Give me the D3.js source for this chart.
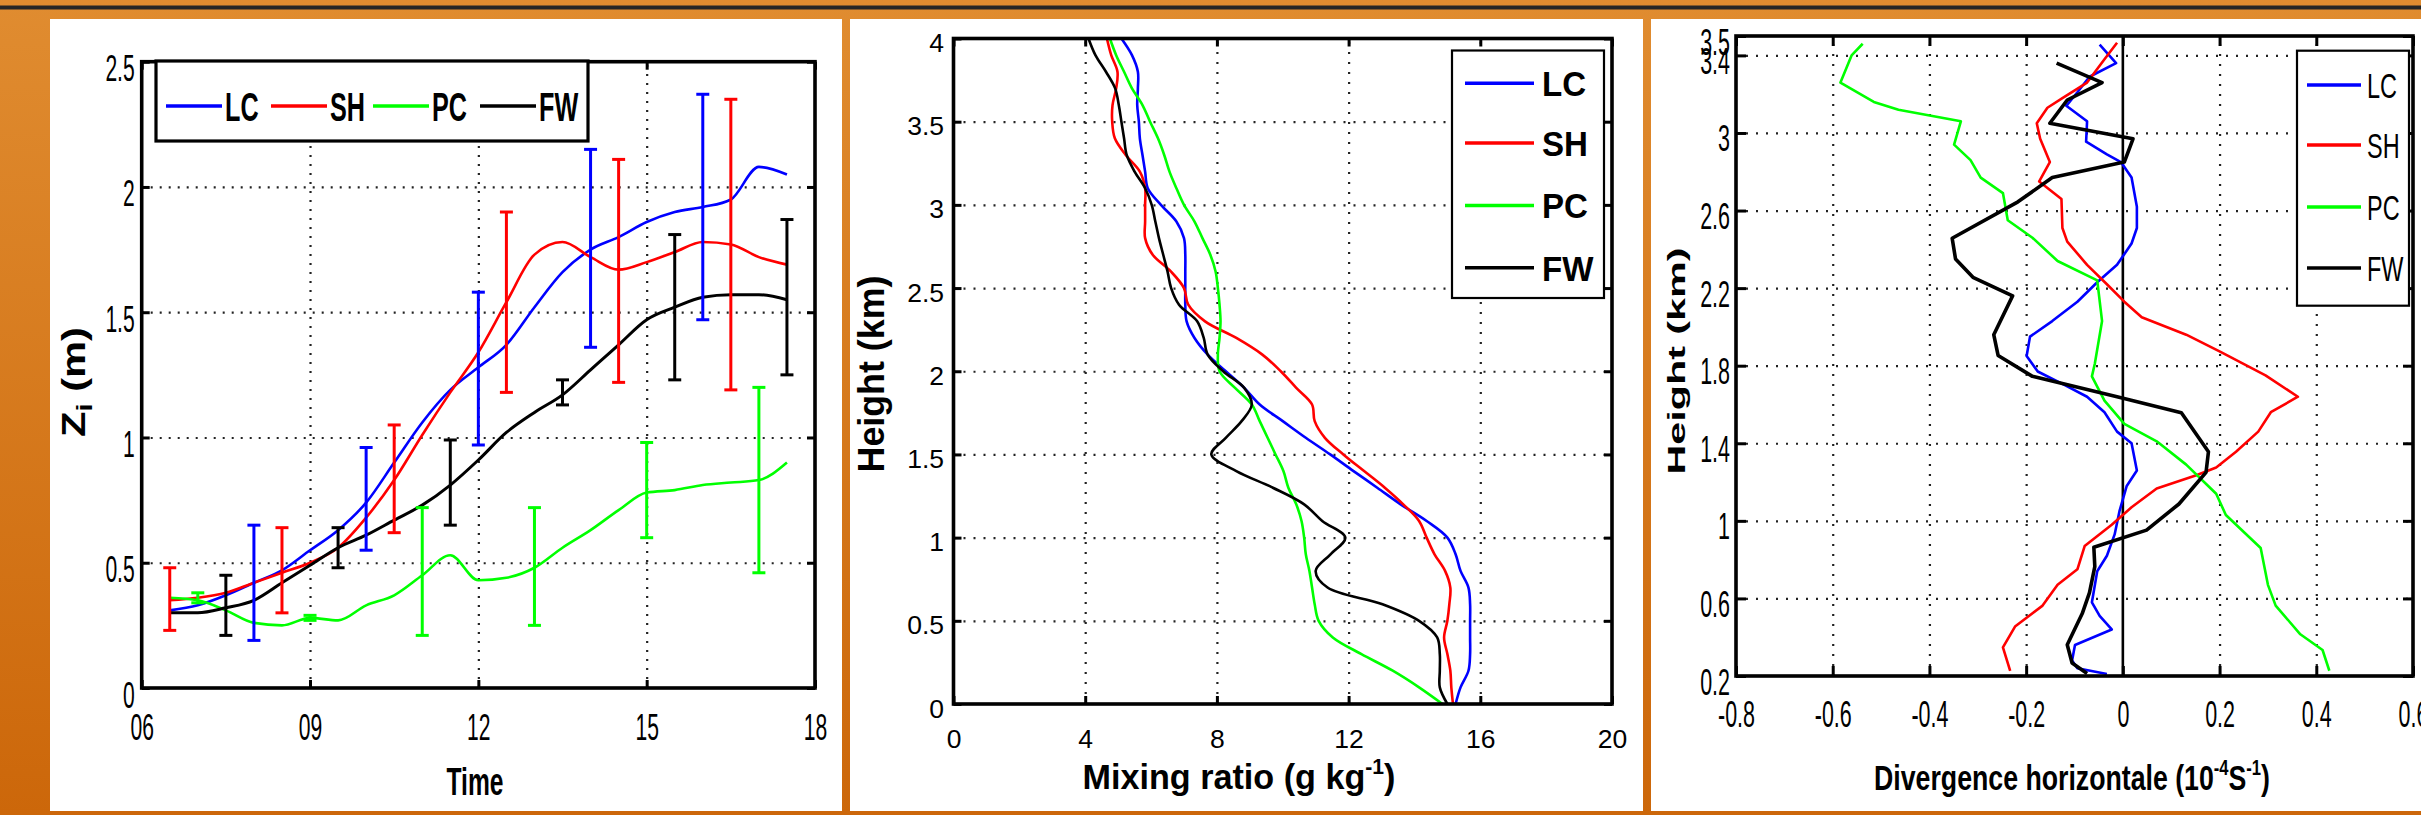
<!DOCTYPE html>
<html>
<head>
<meta charset="utf-8">
<script src="https://cdnjs.cloudflare.com/ajax/libs/d3/7.8.5/d3.min.js"></script>
<style>
  html, body { margin: 0; padding: 0; background: #d87b1f; }
  svg { display: block; }
  text { font-family: "Liberation Sans", Arial, Helvetica, sans-serif; }
</style>
</head>
<body>
<svg id="fig" width="2421" height="815"></svg>
<script>
// ------------------------------------------------------------------
// Shared series definitions
// ------------------------------------------------------------------
const seriesNames  = ["LC", "SH", "PC", "FW"];
const seriesColors = ["#0000ff", "#ff0000", "#00ff00", "#000000"];

// ------------------------------------------------------------------
// Panel 1: boundary-layer height Zi against local time
// ------------------------------------------------------------------
const hours = [6.5, 7, 7.5, 8, 8.5, 9, 9.5, 10, 10.5, 11, 11.5, 12,
               12.5, 13, 13.5, 14, 14.5, 15, 15.5, 16, 16.5, 17, 17.5];
const ziLC = [0.31, 0.33, 0.37, 0.42, 0.47, 0.55, 0.63, 0.74, 0.90, 1.06, 1.19, 1.28,
              1.37, 1.52, 1.66, 1.75, 1.80, 1.86, 1.90, 1.92, 1.95, 2.08, 2.05];
const ziSH = [0.35, 0.36, 0.38, 0.42, 0.46, 0.50, 0.56, 0.68, 0.83, 1.01, 1.18, 1.34,
              1.54, 1.73, 1.78, 1.72, 1.67, 1.70, 1.74, 1.78, 1.77, 1.72, 1.69];
const ziPC = [0.36, 0.35, 0.31, 0.26, 0.25, 0.28, 0.27, 0.33, 0.37, 0.45, 0.53, 0.43,
              0.44, 0.48, 0.56, 0.63, 0.71, 0.78, 0.79, 0.81, 0.82, 0.83, 0.90];
const ziFW = [0.30, 0.30, 0.32, 0.35, 0.42, 0.49, 0.56, 0.61, 0.67, 0.73, 0.81, 0.91,
              1.02, 1.10, 1.17, 1.27, 1.37, 1.47, 1.52, 1.56, 1.57, 1.57, 1.55];
// error bars: [time, lower, upper]
const errLC = [[8, 0.19, 0.65], [10, 0.55, 0.96], [12, 0.97, 1.58], [14, 1.36, 2.15], [16, 1.47, 2.37]];
const errSH = [[6.5, 0.23, 0.48], [8.5, 0.30, 0.64], [10.5, 0.62, 1.05], [12.5, 1.18, 1.90],
               [14.5, 1.22, 2.11], [16.5, 1.19, 2.35]];
const errPC = [[7, 0.34, 0.38], [9, 0.27, 0.29], [11, 0.21, 0.72], [13, 0.25, 0.72],
               [15, 0.60, 0.98], [17, 0.46, 1.20]];
const errFW = [[7.5, 0.21, 0.45], [9.5, 0.48, 0.64], [11.5, 0.65, 0.99], [13.5, 1.13, 1.23],
               [15.5, 1.23, 1.81], [17.5, 1.25, 1.87]];
const p1XTicks = [6, 9, 12, 15, 18];
const p1YTicks = [0, 0.5, 1, 1.5, 2, 2.5];

// ------------------------------------------------------------------
// Panel 2: mixing-ratio profiles (g/kg), heights listed from the top down
// ------------------------------------------------------------------
const heightsMR = [4.0, 3.9, 3.8, 3.7, 3.6, 3.5, 3.4, 3.3, 3.2, 3.1,
                   3.0, 2.9, 2.8, 2.7, 2.6, 2.5, 2.4, 2.3, 2.2, 2.1,
                   2.0, 1.9, 1.8, 1.7, 1.6, 1.5, 1.4, 1.3, 1.2, 1.1,
                   1.0, 0.9, 0.8, 0.7, 0.6, 0.5, 0.4, 0.3, 0.2, 0.1, 0.0];
const mrLC = [5.10, 5.42, 5.60, 5.60, 5.58, 5.63, 5.66, 5.74, 5.82, 5.90,
              6.30, 6.77, 7.00, 7.04, 7.04, 7.04, 7.04, 7.08, 7.32, 7.72,
              8.27, 8.83, 9.30, 10.00, 10.70, 11.44, 12.15, 12.87, 13.58, 14.37,
              15.00, 15.25, 15.40, 15.64, 15.69, 15.69, 15.69, 15.69, 15.64, 15.40, 15.25];
const mrSH = [4.66, 4.79, 4.98, 4.94, 4.83, 4.82, 4.90, 5.23, 5.66, 5.82,
              5.82, 5.82, 5.82, 6.05, 6.60, 7.00, 7.13, 7.64, 8.59, 9.38,
              9.94, 10.41, 10.89, 10.97, 11.28, 11.84, 12.47, 13.10, 13.66, 14.14,
              14.37, 14.61, 14.93, 15.09, 15.06, 15.00, 14.90, 15.00, 15.09, 15.12, 15.17];
const mrPC = [4.75, 4.94, 5.18, 5.42, 5.74, 5.97, 6.21, 6.40, 6.56, 6.77,
              7.00, 7.32, 7.56, 7.80, 7.96, 8.03, 8.08, 8.11, 8.08, 8.03,
              8.08, 8.55, 9.06, 9.30, 9.54, 9.78, 10.02, 10.17, 10.41, 10.57,
              10.65, 10.70, 10.81, 10.89, 10.97, 11.09, 11.52, 12.39, 13.34, 14.14, 14.85];
const mrFW = [4.10, 4.31, 4.63, 4.91, 5.02, 5.10, 5.18, 5.26, 5.50, 5.82,
              6.02, 6.13, 6.24, 6.37, 6.50, 6.61, 6.85, 7.40, 7.60, 7.72,
              8.19, 8.83, 9.06, 8.75, 8.27, 7.83, 8.59, 9.70, 10.65, 11.20,
              11.90, 11.45, 11.00, 11.36, 13.03, 14.14, 14.69, 14.77, 14.77, 14.77, 15.00];
const p2XTicks = [0, 4, 8, 12, 16, 20];
const p2YTicks = [0, 0.5, 1, 1.5, 2, 2.5, 3, 3.5, 4];

// ------------------------------------------------------------------
// Panel 3: horizontal divergence profiles, [divergence, height] pairs
// ------------------------------------------------------------------
const divLC = [[-0.048, 3.455], [-0.014, 3.36], [-0.069, 3.29], [-0.094, 3.21], [-0.117, 3.14],
  [-0.074, 3.06], [-0.076, 2.955], [-0.033, 2.89], [-0.004, 2.85], [0.018, 2.77], [0.029, 2.62],
  [0.029, 2.51], [0.018, 2.43], [-0.012, 2.32], [-0.053, 2.23], [-0.094, 2.13], [-0.146, 2.03],
  [-0.192, 1.95], [-0.199, 1.85], [-0.176, 1.77], [-0.12, 1.70], [-0.074, 1.64], [-0.038, 1.56],
  [-0.012, 1.46], [0.018, 1.40], [0.029, 1.26], [0.008, 1.18], [-0.007, 1.05], [-0.017, 0.93],
  [-0.033, 0.82], [-0.053, 0.74], [-0.064, 0.58], [-0.048, 0.51], [-0.023, 0.44], [-0.099, 0.36],
  [-0.105, 0.28], [-0.094, 0.24], [-0.033, 0.21]];
const divSH = [[-0.012, 3.465], [-0.038, 3.38], [-0.074, 3.26], [-0.125, 3.18], [-0.156, 3.13],
  [-0.178, 3.05], [-0.171, 2.97], [-0.151, 2.85], [-0.173, 2.75], [-0.127, 2.66], [-0.125, 2.51],
  [-0.115, 2.44], [-0.074, 2.32], [-0.033, 2.22], [0.003, 2.13], [0.039, 2.05], [0.131, 1.96],
  [0.203, 1.87], [0.295, 1.75], [0.362, 1.64], [0.306, 1.56], [0.28, 1.46], [0.234, 1.356],
  [0.193, 1.275], [0.152, 1.235], [0.07, 1.167], [0.018, 1.07], [-0.023, 0.98], [-0.079, 0.87],
  [-0.094, 0.75], [-0.135, 0.67], [-0.166, 0.563], [-0.223, 0.455], [-0.248, 0.348], [-0.233, 0.227]];
const divPC = [[-0.538, 3.46], [-0.561, 3.40], [-0.584, 3.26], [-0.515, 3.16], [-0.464, 3.12],
  [-0.335, 3.06], [-0.349, 2.94], [-0.315, 2.86], [-0.294, 2.77], [-0.248, 2.69], [-0.238, 2.55],
  [-0.187, 2.46], [-0.135, 2.34], [-0.053, 2.24], [-0.043, 2.03], [-0.058, 1.81], [-0.064, 1.745],
  [-0.038, 1.62], [0.003, 1.50], [0.07, 1.41], [0.131, 1.29], [0.193, 1.14], [0.213, 1.03],
  [0.285, 0.86], [0.30, 0.67], [0.316, 0.563], [0.367, 0.415], [0.413, 0.334], [0.427, 0.227]];
const divFW = [[-0.137, 3.36], [-0.043, 3.26], [-0.115, 3.17], [-0.151, 3.05], [0.021, 2.97],
  [0.003, 2.85], [-0.146, 2.77], [-0.217, 2.645], [-0.353, 2.457], [-0.346, 2.35], [-0.31, 2.256],
  [-0.228, 2.16], [-0.267, 1.96], [-0.258, 1.853], [-0.187, 1.745], [-0.012, 1.64], [0.121, 1.557],
  [0.177, 1.356], [0.172, 1.25], [0.116, 1.087], [0.049, 0.952], [-0.06, 0.864], [-0.058, 0.764],
  [-0.069, 0.63], [-0.084, 0.522], [-0.115, 0.361], [-0.105, 0.267], [-0.074, 0.213]];
const p3XTicks = [-0.8, -0.6, -0.4, -0.2, 0, 0.2, 0.4, 0.6];
const p3YTicks = [0.2, 0.6, 1, 1.4, 1.8, 2.2, 2.6, 3, 3.4, 3.5];

// ------------------------------------------------------------------
// Page background and white sheets
// ------------------------------------------------------------------
const W = 2421, H = 815;
const svg = d3.select("#fig");
const defs = svg.append("defs");
const grad = defs.append("linearGradient").attr("id", "bg")
  .attr("x1", 0).attr("y1", 0).attr("x2", 0).attr("y2", 1);
grad.append("stop").attr("offset", "0%").attr("stop-color", "#e08c30");
grad.append("stop").attr("offset", "100%").attr("stop-color", "#cc670a");
svg.append("rect").attr("width", W).attr("height", H).attr("fill", "url(#bg)");
svg.append("rect").attr("x", 0).attr("y", 5.5).attr("width", W).attr("height", 4).attr("fill", "#262626");

[[50, 19, 792, 792], [850, 19, 793, 792], [1651, 19, 770, 792]].forEach(([x, y, w, h]) => {
  svg.append("rect").attr("x", x).attr("y", y).attr("width", w).attr("height", h).attr("fill", "#fff");
});

// ------------------------------------------------------------------
// Helpers
// ------------------------------------------------------------------
// Text made of parts: "plain", ["sup", "-1"], ["sub", "i"]. Optionally stretched to a length.
function addText(parent, o) {
  const t = parent.append("text")
    .attr("text-anchor", o.anchor || "middle")
    .attr("font-size", o.size)
    .attr("font-weight", o.weight || "normal")
    .attr("fill", "#000");
  let shift = 0;
  o.parts.forEach(p => {
    const kind = Array.isArray(p) ? p[0] : null;
    const str = Array.isArray(p) ? p[1] : p;
    const ts = t.append("tspan").text(str);
    let target = 0;
    if (kind === "sup") { target = -o.size * 0.42; ts.attr("font-size", o.size * 0.62); }
    if (kind === "sub") { target = o.size * 0.22; ts.attr("font-size", o.size * 0.7); }
    if (target !== shift) { ts.attr("dy", target - shift); shift = target; }
  });
  const len = t.node().getComputedTextLength();
  const sx = o.length ? o.length / len : (o.sx || 1);
  const sy = o.sy || 1;
  t.attr("transform", `translate(${o.x},${o.y}) rotate(${o.rot || 0}) scale(${sx},${sy})`);
  return t;
}

function makePanel(cfg) {
  const g = svg.append("g");
  const x = d3.scaleLinear().domain(cfg.xDomain).range([cfg.left, cfg.right]);
  const y = d3.scaleLinear().domain(cfg.yDomain).range([cfg.bottom, cfg.top]);
  const pw = cfg.right - cfg.left, ph = cfg.bottom - cfg.top;

  // dotted grid
  const grid = g.append("g");
  grid.append("g").attr("transform", `translate(0,${cfg.bottom})`)
    .call(d3.axisBottom(x).tickValues(cfg.xGrid).tickSize(-ph).tickSizeOuter(0).tickFormat(""));
  grid.append("g").attr("transform", `translate(${cfg.left},0)`)
    .call(d3.axisLeft(y).tickValues(cfg.yGrid).tickSize(-pw).tickSizeOuter(0).tickFormat(""));
  grid.selectAll(".domain").remove();
  grid.selectAll("text").remove();
  grid.selectAll("line").attr("stroke", "#222").attr("stroke-width", 2.2)
    .attr("stroke-dasharray", cfg.dash);

  const data = g.append("g");
  const front = g.append("g");
  return { g, x, y, data, front, cfg };
}

function drawFrame(p) {
  const c = p.cfg, fr = p.front;
  const tl = c.tickLen;
  const bottom = fr.append("g").attr("transform", `translate(0,${c.bottom})`)
    .call(d3.axisBottom(p.x).tickValues(c.xTicks).tickSize(-tl).tickSizeOuter(0).tickFormat(c.xFmt));
  fr.append("g").attr("transform", `translate(0,${c.top})`)
    .call(d3.axisTop(p.x).tickValues(c.xTicks).tickSize(-tl).tickSizeOuter(0).tickFormat(""));
  const left = fr.append("g").attr("transform", `translate(${c.left},0)`)
    .call(d3.axisLeft(p.y).tickValues(c.yTicks).tickSize(-tl).tickSizeOuter(0).tickFormat(c.yFmt));
  fr.append("g").attr("transform", `translate(${c.right},0)`)
    .call(d3.axisRight(p.y).tickValues(c.yTicks).tickSize(-tl).tickSizeOuter(0).tickFormat(""));
  fr.selectAll(".domain").remove();
  fr.selectAll("g").attr("font-family", null).attr("font-size", null);
  fr.selectAll(".tick line").attr("stroke", "#000").attr("stroke-width", c.tickW);

  bottom.selectAll("text")
    .attr("y", c.xLabelBase).attr("dy", null)
    .attr("font-size", c.tickSize).attr("fill", "#000")
    .attr("transform", `scale(${c.tickSx},1)`);
  left.selectAll("text")
    .attr("x", -c.yLabelGap / c.tickSx).attr("y", c.yLabelBase).attr("dy", null)
    .attr("font-size", c.tickSize).attr("fill", "#000")
    .attr("transform", `scale(${c.tickSx},1)`);

  fr.append("rect")
    .attr("x", c.left).attr("y", c.top)
    .attr("width", c.right - c.left).attr("height", c.bottom - c.top)
    .attr("fill", "none").attr("stroke", "#000").attr("stroke-width", c.frameW);
}

function drawLegend(p, L) {
  const lg = p.front.append("g");
  lg.append("rect").attr("x", L.x).attr("y", L.y).attr("width", L.w).attr("height", L.h)
    .attr("fill", "#fff").attr("stroke", "#000").attr("stroke-width", L.stroke);
  seriesNames.forEach((name, i) => {
    const lx = L.lineX[i], ly = L.lineY[i];
    lg.append("line").attr("x1", lx).attr("x2", lx + L.lineLen).attr("y1", ly).attr("y2", ly)
      .attr("stroke", seriesColors[i]).attr("stroke-width", 3.5);
    addText(lg, { x: lx + L.lineLen + L.gap, y: ly + L.baseOff, anchor: "start",
                  size: L.size, weight: L.weight, sx: L.sx, parts: [name] });
  });
}

// ------------------------------------------------------------------
// Panel 1
// ------------------------------------------------------------------
const p1 = makePanel({
  left: 141.7, right: 815, top: 61.7, bottom: 688,
  xDomain: [6, 18], yDomain: [0, 2.5],
  xGrid: [9, 12, 15], yGrid: [0.5, 1, 1.5, 2], dash: "2,7",
  xTicks: p1XTicks, yTicks: p1YTicks,
  xFmt: d3.format("02d"), yFmt: d => String(d),
  tickLen: 8, tickW: 3, frameW: 3.6,
  tickSize: 37, tickSx: 0.57, xLabelBase: 52, yLabelGap: 7, yLabelBase: 19
});
{
  const zi = [ziLC, ziSH, ziPC, ziFW];
  const errs = [errLC, errSH, errPC, errFW];
  const line = d3.line().x(d => p1.x(d[0])).y(d => p1.y(d[1])).curve(d3.curveMonotoneX);
  zi.forEach((vals, i) => {
    p1.data.append("path").datum(hours.map((t, k) => [t, vals[k]]))
      .attr("d", line).attr("fill", "none").attr("stroke", seriesColors[i])
      .attr("stroke-width", i === 3 ? 3 : 2.6).attr("stroke-linejoin", "round");
  });
  errs.forEach((list, i) => {
    const eg = p1.data.append("g").attr("stroke", seriesColors[i]).attr("stroke-width", 3);
    list.forEach(([t, lo, hi]) => {
      const cx = p1.x(t);
      eg.append("line").attr("x1", cx).attr("x2", cx).attr("y1", p1.y(lo)).attr("y2", p1.y(hi));
      [lo, hi].forEach(v => eg.append("line")
        .attr("x1", cx - 6.5).attr("x2", cx + 6.5).attr("y1", p1.y(v)).attr("y2", p1.y(v)));
    });
  });
  drawFrame(p1);
  drawLegend(p1, {
    x: 156, y: 61, w: 432, h: 80, stroke: 3.2,
    lineX: [166, 271, 373, 480], lineY: [106, 106, 106, 106], lineLen: 56, gap: 3,
    baseOff: 14.5, size: 40, weight: "bold", sx: 0.63
  });
  addText(svg, { x: 475, y: 795, size: 38, weight: "bold", length: 57, parts: ["Time"] });
  addText(svg, { x: 85, y: 382, rot: -90, size: 34, weight: "bold", length: 110, sy: 0.95,
                 parts: ["Z", ["sub", "i"], " (m)"] });
}

// ------------------------------------------------------------------
// Panel 2
// ------------------------------------------------------------------
const p2 = makePanel({
  left: 953.5, right: 1612, top: 38.5, bottom: 704,
  xDomain: [0, 20], yDomain: [0, 4],
  xGrid: [4, 8, 12, 16], yGrid: [0.5, 1, 1.5, 2, 2.5, 3, 3.5], dash: "2,8",
  xTicks: p2XTicks, yTicks: p2YTicks,
  xFmt: d => String(d), yFmt: d => String(d),
  tickLen: 8, tickW: 3, frameW: 3.6,
  tickSize: 26.5, tickSx: 1, xLabelBase: 44, yLabelGap: 9.5, yLabelBase: 13
});
{
  const mr = [mrLC, mrSH, mrPC, mrFW];
  const line = d3.line().x(d => p2.x(d[1])).y(d => p2.y(d[0])).curve(d3.curveCatmullRom.alpha(0.5));
  mr.forEach((vals, i) => {
    p2.data.append("path").datum(heightsMR.map((h, k) => [h, vals[k]]))
      .attr("d", line).attr("fill", "none").attr("stroke", seriesColors[i])
      .attr("stroke-width", 2.6).attr("stroke-linejoin", "round");
  });
  drawFrame(p2);
  drawLegend(p2, {
    x: 1452, y: 50.5, w: 152, h: 247.5, stroke: 2.2,
    lineX: [1465, 1465, 1465, 1465], lineY: [83.2, 143, 205.4, 267.8], lineLen: 69, gap: 8,
    baseOff: 13, size: 36, weight: "bold", sx: 0.92
  });
  addText(svg, { x: 1239, y: 789, size: 35, weight: "bold", length: 313,
                 parts: ["Mixing ratio (g kg", ["sup", "-1"], ")"] });
  addText(svg, { x: 884, y: 374, rot: -90, size: 36, weight: "bold", length: 197,
                 parts: ["Height (km)"] });
}

// ------------------------------------------------------------------
// Panel 3
// ------------------------------------------------------------------
const p3 = makePanel({
  left: 1736, right: 2413, top: 36, bottom: 676,
  xDomain: [-0.8, 0.6], yDomain: [0.2, 3.5],
  xGrid: [-0.6, -0.4, -0.2, 0.2, 0.4], yGrid: [0.6, 1, 1.4, 1.8, 2.2, 2.6, 3, 3.4], dash: "2,8",
  xTicks: p3XTicks, yTicks: p3YTicks,
  xFmt: d => String(+d.toFixed(1)), yFmt: d => String(+d.toFixed(1)),
  tickLen: 10, tickW: 3, frameW: 3.6,
  tickSize: 37, tickSx: 0.58, xLabelBase: 51, yLabelGap: 6, yLabelBase: 18
});
{
  // zero-divergence reference line
  p3.data.append("line")
    .attr("x1", p3.x(0)).attr("x2", p3.x(0)).attr("y1", p3.y(0.2)).attr("y2", p3.y(3.5))
    .attr("stroke", "#000").attr("stroke-width", 2.6);
  const div = [divLC, divSH, divPC, divFW];
  const line = d3.line().x(d => p3.x(d[0])).y(d => p3.y(d[1]));
  div.forEach((pts, i) => {
    p3.data.append("path").datum(pts)
      .attr("d", line).attr("fill", "none").attr("stroke", seriesColors[i])
      .attr("stroke-width", i === 3 ? 3.6 : 2.6).attr("stroke-linejoin", "round");
  });
  drawFrame(p3);
  drawLegend(p3, {
    x: 2297, y: 50.7, w: 112, h: 255, stroke: 2.2,
    lineX: [2307, 2307, 2307, 2307], lineY: [85, 145, 207, 268], lineLen: 54, gap: 6,
    baseOff: 12.5, size: 35, weight: "normal", sx: 0.67
  });
  addText(svg, { x: 2072, y: 790, size: 36, weight: "bold", length: 396,
                 parts: ["Divergence horizontale (10", ["sup", "-4"], "S", ["sup", "-1"], ")"] });
  addText(svg, { x: 1685, y: 361, rot: -90, size: 31, weight: "bold", length: 227, sy: 0.8,
                 parts: ["Height (km)"] });
}
</script>
</body>
</html>
